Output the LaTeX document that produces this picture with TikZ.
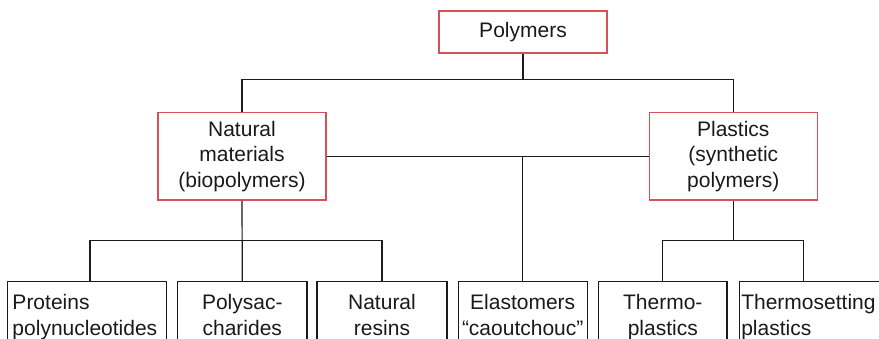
\documentclass[tikz,border=0pt]{standalone}
\usepackage{fontspec}
\setmainfont{Liberation Sans}
\definecolor{boxred}{RGB}{214,80,90}
\definecolor{ink}{RGB}{26,26,26}
\begin{document}
\begin{tikzpicture}[x=1pt,y=-1pt,
  font=\fontsize{21}{25.5}\selectfont,
  text=ink,
  topbox/.style={draw=boxred,line width=1.5pt,rectangle,align=center,
    minimum width=168pt,inner sep=0pt},
  leafbox/.style={draw=ink,line width=1.2pt,rectangle,anchor=north,
    inner ysep=13pt,inner xsep=0pt},
  link/.style={draw=ink,line width=1.2pt}
]
\useasboundingbox (0,0) rectangle (879,339);
\fill[white] (0,0) rectangle (879,339);
\begin{scope}
\clip (0,0) rectangle (879,339);
% top level
\node[topbox,minimum height=42pt] (poly) at (523,32) {Polymers};
\node[topbox,minimum height=87.3pt] (nat) at (242,156.4) {Natural\\materials\\(biopolymers)};
\node[topbox,minimum height=87.3pt] (pla) at (733.3,156.4) {Plastics\\(synthetic\\polymers)};
% leaves
\node[leafbox,inner xsep=5pt,text width=149.2pt,align=left] (b1) at (87.1,281) {Proteins\\polynucleotides};
\node[leafbox,text width=129.3pt,align=center] (b2) at (242.3,281) {Polysac-\\charides};
\node[leafbox,text width=130pt,align=center] (b3) at (382,281) {Natural\\resins};
\node[leafbox,text width=129pt,align=center] (b4) at (522.7,281) {Elastomers\\“caoutchouc”};
\node[leafbox,text width=128.3pt,align=center] (b5) at (662.8,281) {Thermo-\\plastics};
\node[leafbox,inner xsep=2pt,text width=156pt,align=left,anchor=north west] (b6) at (738.7,281) {Thermosetting\\plastics};
% junctions
\coordinate (top) at (523,79.5);
\coordinate (lowl) at (242,240.7);
\coordinate (lowr) at (733.3,240.7);
\coordinate (b1in) at (90,281);
\coordinate (b6in) at (803.3,281);
% connectors
\draw[link] (poly.south) -- (top);
\draw[link] (nat.north) |- (top) -| (pla.north);
\draw[link] (nat.east) -- (pla.west);
\draw[link] (b4.north) -- (b4.north |- nat.east);
\draw[link] (nat.south) -- (b2.north);
\draw[link] (b1in) |- (lowl) -| (b3.north);
\draw[link] (pla.south) -- (lowr);
\draw[link] (b5.north) |- (lowr) -| (b6in);
\end{scope}
\end{tikzpicture}
\end{document}
